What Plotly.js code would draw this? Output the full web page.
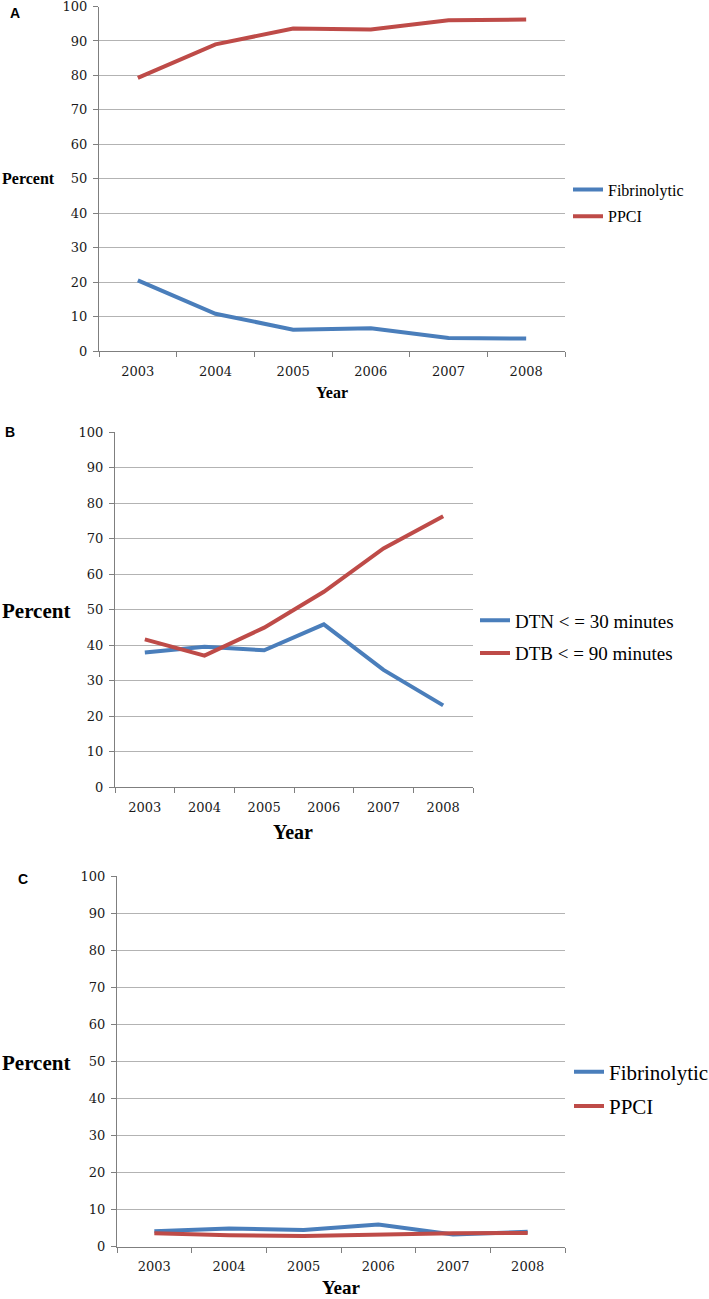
<!DOCTYPE html>
<html>
<head>
<meta charset="utf-8">
<script src="https://cdn.plot.ly/plotly-3.0.1.min.js"></script>
<style>
html,body{margin:0;padding:0;background:#fff;overflow:hidden;width:709px;height:1299px;}
#chart{width:709px;height:1299px;overflow:hidden;}
</style>
</head>
<body>
<div id="chart"></div>
<script>
// ---- data ----
var years = ["2003", "2004", "2005", "2006", "2007", "2008"];
var yTicks = [0, 10, 20, 30, 40, 50, 60, 70, 80, 90, 100];

// Panel A
var aFibrinolytic = [20.5, 10.8, 6.2, 6.6, 3.8, 3.6];
var aPPCI = [79.3, 89.0, 93.6, 93.3, 96.0, 96.2];

// Panel B
var bDTN = [37.9, 39.5, 38.5, 45.8, 33.0, 23.0];
var bDTB = [41.6, 37.0, 44.9, 55.0, 67.2, 76.3];

// Panel C
var cFibrinolytic = [4.2, 4.9, 4.5, 6.0, 3.3, 4.0];
var cPPCI = [3.6, 3.1, 2.9, 3.3, 3.6, 3.7];

var seriesNamesAC = ["Fibrinolytic", "PPCI"];
var seriesNamesB = ["DTN < = 30 minutes", "DTB < = 90 minutes"];

// ---- styling ----
var W = 709, H = 1299;
var BLUE = "#4A7EBB", RED = "#BE4B48";
function px(x) { return x / W; }
function py(y) { return 1 - y / H; }

var tickFont = {family: "DejaVu Serif", size: 13, color: "#1a1a1a"};

function xAxis(l, r, anchor) {
  return {
    type: "category", domain: [px(l), px(r)], anchor: anchor,
    range: [-0.5, 5.5], tickson: "boundaries", ticks: "outside", ticklen: 5,
    tickcolor: "#7f7f7f", showline: true, linecolor: "#7f7f7f", linewidth: 1,
    showgrid: false, zeroline: false, tickfont: tickFont, fixedrange: true,
    ticklabelstandoff: 8, ticklabeloverflow: "allow", automargin: false
  };
}
function yAxis(top, bottom, anchor) {
  return {
    domain: [py(bottom), py(top)], anchor: anchor,
    range: [0, 100], tickvals: yTicks, ticks: "outside", ticklen: 5,
    tickcolor: "#7f7f7f", showline: true, linecolor: "#7f7f7f", linewidth: 1,
    showgrid: true, gridcolor: "#b3b3b3", gridwidth: 1, zeroline: false,
    tickfont: tickFont, fixedrange: true,
    ticklabelstandoff: 3, ticklabeloverflow: "allow", automargin: false
  };
}

function line(x, y, name, color, xa, ya, leg, grp) {
  return {
    type: "scatter", mode: "lines", x: x, y: y, name: name,
    line: {color: color, width: 4}, xaxis: xa, yaxis: ya,
    legend: leg, legendgroup: grp, hoverinfo: "x+y+name"
  };
}

var traces = [
  line(years, aFibrinolytic, seriesNamesAC[0], BLUE, "x", "y", "legend", "a1"),
  line(years, aPPCI, seriesNamesAC[1], RED, "x", "y", "legend", "a2"),
  line(years, bDTN, seriesNamesB[0], BLUE, "x2", "y2", "legend2", "b1"),
  line(years, bDTB, seriesNamesB[1], RED, "x2", "y2", "legend2", "b2"),
  line(years, cFibrinolytic, seriesNamesAC[0], BLUE, "x3", "y3", "legend3", "c1"),
  line(years, cPPCI, seriesNamesAC[1], RED, "x3", "y3", "legend3", "c2")
];

function ann(text, x, y, size, xanchor, family) {
  return {
    text: text, xref: "paper", yref: "paper", x: px(x), y: py(y),
    xanchor: xanchor, yanchor: "middle", showarrow: false,
    font: {family: family || "Liberation Serif", size: size, color: "#000"}
  };
}

function legendAt(x, y, size, gap) {
  return {
    x: px(x), y: py(y), xanchor: "left", yanchor: "middle",
    xref: "paper", yref: "paper",
    bgcolor: "rgba(0,0,0,0)", borderwidth: 0,
    font: {family: "Liberation Serif", size: size, color: "#000"},
    traceorder: "grouped", tracegroupgap: gap, itemwidth: 30
  };
}

var layout = {
  width: W, height: H,
  margin: {l: 0, r: 0, t: 0, b: 0, autoexpand: false},
  paper_bgcolor: "#fff", plot_bgcolor: "#fff",
  showlegend: true,
  xaxis: xAxis(99, 565, "y"),
  yaxis: yAxis(6.5, 351, "x"),
  xaxis2: xAxis(115, 473, "y2"),
  yaxis2: yAxis(432, 787, "x2"),
  xaxis3: xAxis(117, 565, "y3"),
  yaxis3: yAxis(876, 1246.7, "x3"),
  legend: legendAt(568, 203, 16, 3),
  legend2: legendAt(475, 637, 19, 5),
  legend3: legendAt(569, 1089, 21, 4),
  annotations: [
    ann("<b>A</b>", 8, 13, 14, "left", "Liberation Sans"),
    ann("<b>B</b>", 3, 432, 14, "left", "Liberation Sans"),
    ann("<b>C</b>", 16, 879, 14, "left", "Liberation Sans"),
    ann("<b>Percent</b>", 0, 179, 16, "left"),
    ann("<b>Percent</b>", 0, 611, 21, "left"),
    ann("<b>Percent</b>", 0, 1063, 21, "left"),
    ann("<b>Year</b>", 332, 392, 16, "center"),
    ann("<b>Year</b>", 293, 832, 20, "center"),
    ann("<b>Year</b>", 341, 1287, 19, "center")
  ]
};

Plotly.newPlot("chart", traces, layout, {displayModeBar: false, staticPlot: true});
</script>
</body>
</html>
